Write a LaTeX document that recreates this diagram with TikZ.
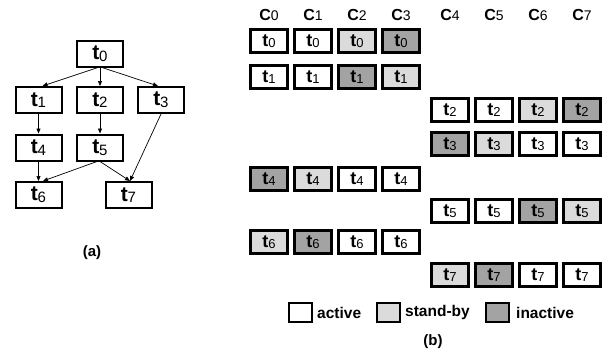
\documentclass[tikz,border=0pt]{standalone}
\usepackage{fontspec}
\setmainfont{Liberation Sans}
\usetikzlibrary{arrows.meta}

\definecolor{standby}{gray}{0.86}
\definecolor{inactive}{gray}{0.64}

% task label: bold t with a lighter, lowered index
\newcommand\tsk[2]{{\bfseries t}\kern-0.01em\raisebox{-0.15ex}{\fontsize{#2}{#2}\selectfont #1}}

\tikzset{
  graphtask/.style={draw, line width=2pt, minimum width=46pt, minimum height=26pt,
    inner sep=0pt, font=\fontsize{21}{21}\selectfont},
  copybox/.style={draw, line width=2.2pt, minimum width=37pt, minimum height=23pt,
    inner sep=0pt, font=\fontsize{18}{18}\selectfont},
  legbox/.style={draw, line width=2pt, minimum width=23pt, minimum height=19pt, inner sep=0pt},
  dep/.style={line width=0.7pt, -{Triangle[length=5pt,width=4pt]}},
  corelabel/.style={font=\fontsize{16}{16}\selectfont},
  legtext/.style={anchor=west, inner sep=0pt, font=\bfseries\fontsize{15.5}{15.5}\selectfont},
  caption/.style={font=\bfseries\fontsize{15}{15}\selectfont}
}

\begin{document}
\begin{tikzpicture}[x=1pt, y=-1pt]
\useasboundingbox (0,0) rectangle (605,356);

% ---- (a) task graph ----
\node[graphtask] (g0) at (100,53.5) {\tsk{0}{15}};
\node[graphtask] (g1) at (38.5,100) {\tsk{1}{15}};
\node[graphtask] (g2) at (100,100) {\tsk{2}{15}};
\node[graphtask] (g3) at (161,100) {\tsk{3}{15}};
\node[graphtask] (g4) at (38.5,147.5) {\tsk{4}{15}};
\node[graphtask] (g5) at (100,147.5) {\tsk{5}{15}};
\node[graphtask] (g6) at (38.5,195) {\tsk{6}{15}};
\node[graphtask] (g7) at (128.5,195) {\tsk{7}{15}};

\draw[dep] ([xshift=-2pt]g0.south) -- ([xshift=4pt]g1.north);
\draw[dep] (g0.south) -- (g2.north);
\draw[dep] ([xshift=2pt]g0.south) -- ([xshift=-3pt]g3.north);
\draw[dep] (g1.south) -- (g4.north);
\draw[dep] (g2.south) -- (g5.north);
\draw[dep] (g3.south) -- ([xshift=1.5pt]g7.north);
\draw[dep] (g4.south) -- (g6.north);
\draw[dep] ([xshift=-3pt]g5.south) -- ([xshift=4.5pt]g6.north);
\draw[dep] (g5.south) -- ([xshift=1.5pt]g7.north);

\node[caption] (capa) at (92,253) {(a)};

% ---- (b) replicated copies on cores ----
\foreach \k/\x in {0/269,1/313,2/357,3/401,4/450,5/494,6/538,7/582}
  \node[corelabel] (c\k) at (\x,15) {{\bfseries C}\fontsize{14}{14}\selectfont\k};

% row: task, y, first column x, fills of the four copies
\foreach \t/\y/\x/\fa/\fb/\fc/\fd in {
    0/41/269/white/white/standby/inactive,
    1/77/269/white/white/inactive/standby,
    2/110/450/white/white/standby/inactive,
    3/144/450/inactive/standby/white/white,
    4/179/269/inactive/standby/white/white,
    5/211/450/white/white/inactive/standby,
    6/242/269/standby/inactive/white/white,
    7/275/450/standby/inactive/white/white} {
  \node[copybox, fill=\fa] (r\t a) at (\x,\y) {\tsk{\t}{13}};
  \node[copybox, fill=\fb] (r\t b) at (\x+44,\y) {\tsk{\t}{13}};
  \node[copybox, fill=\fc] (r\t c) at (\x+88,\y) {\tsk{\t}{13}};
  \node[copybox, fill=\fd] (r\t d) at (\x+132,\y) {\tsk{\t}{13}};
}

% legend
\node[legbox, fill=white] (la) at (300.5,312.5) {};
\node[legtext] (lta) at (317,312.5) {active};
\node[legbox, fill=standby] (ls) at (388.5,312.5) {};
\node[legtext] (lts) at (405,312.5) {stand-by};
\node[legbox, fill=inactive] (li) at (497,312.5) {};
\node[legtext] (lti) at (516,312.5) {inactive};

\node[caption] (capb) at (433,342) {(b)};
\end{tikzpicture}
\end{document}
